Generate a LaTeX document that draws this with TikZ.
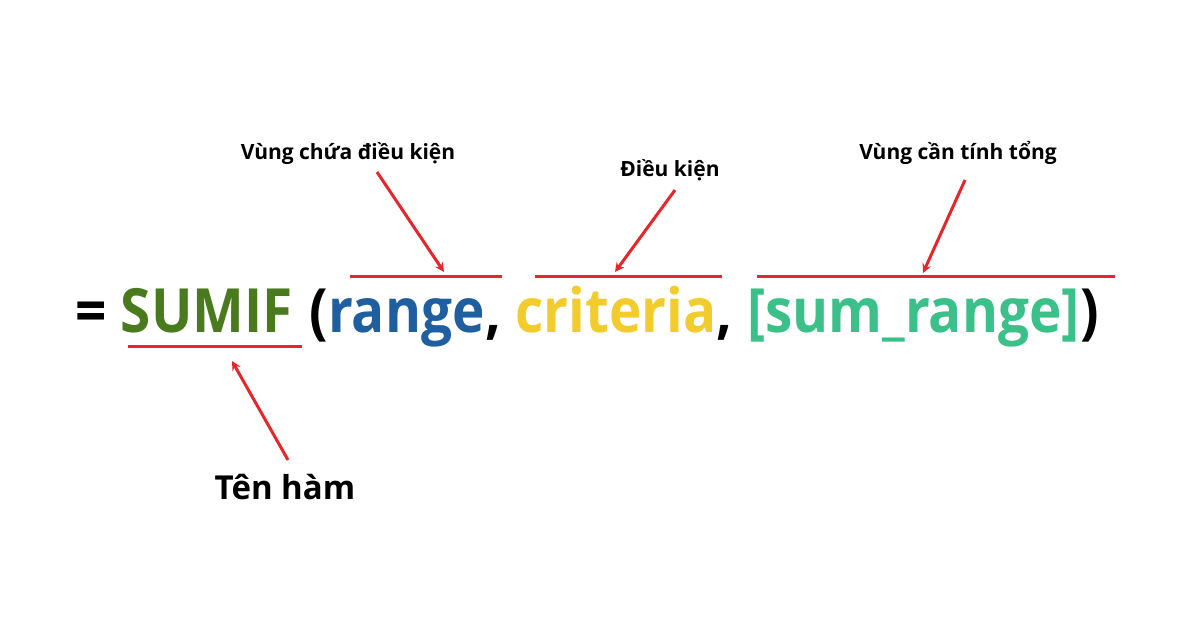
\documentclass[tikz,border=0pt]{standalone}
\usepackage{fontspec}
\setmainfont{Open Sans}
\usetikzlibrary{positioning}
\definecolor{fngreen}{HTML}{4A7A1E}
\definecolor{rgblue}{HTML}{1F5FA0}
\definecolor{crityellow}{HTML}{F2CC2C}
\definecolor{sumgreen}{HTML}{3CC08A}
\definecolor{marker}{HTML}{E8262A}
\newcommand{\squeeze}[1]{\scalebox{0.9}[1]{#1}}
\tikzset{
  part/.style={inner sep=0pt, anchor=base west, font=\fontsize{61}{68}\selectfont\bfseries},
  tag/.style={inner sep=0pt, font=\fontsize{21}{24}\selectfont\bfseries},
  bar/.style={draw=marker, line width=3pt},
  pointer/.style={draw=marker, line width=3pt, -stealth}
}
\begin{document}
\begin{tikzpicture}[x=1pt,y=-1pt]
\useasboundingbox (0,0) rectangle (1200,620);
% formula
\node[part] (eq) at (75,333) {\squeeze{=}};
\node[part, text=fngreen, right=14pt of eq.base east, anchor=base west] (fn) {\squeeze{SUMIF}};
\node[part, right=16pt of fn.base east, anchor=base west] (open) {\squeeze{(}};
\node[part, text=rgblue, right=0pt of open.base east, anchor=base west] (rg) {\squeeze{range}};
\node[part, right=0pt of rg.base east, anchor=base west] (c1) {\squeeze{,}};
\node[part, text=crityellow, right=14pt of c1.base east, anchor=base west] (crit) {\squeeze{criteria}};
\node[part, right=0pt of crit.base east, anchor=base west] (c2) {\squeeze{,}};
\node[part, text=sumgreen, right=14pt of c2.base east, anchor=base west] (sr) {\squeeze{[sum\_range]}};
\node[part, right=0pt of sr.base east, anchor=base west] (close) {\squeeze{)}};
% bars
\draw[bar] (128,347) coordinate (fnL) -- (302,347) coordinate (fnR);
\draw[bar] (350,277) -- (502,277);
\draw[bar] (535,277) -- (722,277);
\draw[bar] (757,277) -- (1115,277);
\coordinate (rgT) at (444,272);
\coordinate (critT) at (615,272);
\coordinate (srT) at (923,273);
\coordinate (fnT) at (232,361);
% labels
\node[tag] (lrg) at (348,153) {Vùng chứa điều kiện};
\node[tag] (lcrit) at (670,170) {Điều kiện};
\node[tag] (lsr) at (958,153) {Vùng cần tính tổng};
\node[tag, font=\fontsize{33}{36}\selectfont\bfseries] (lfn) at (285,487) {Tên hàm};
% arrows
\draw[pointer] (377,172) -- (rgT);
\draw[pointer] (675,190) -- (critT);
\draw[pointer] (965,180) -- (srT);
\draw[pointer] (288,460) -- (fnT);
\end{tikzpicture}
\end{document}
